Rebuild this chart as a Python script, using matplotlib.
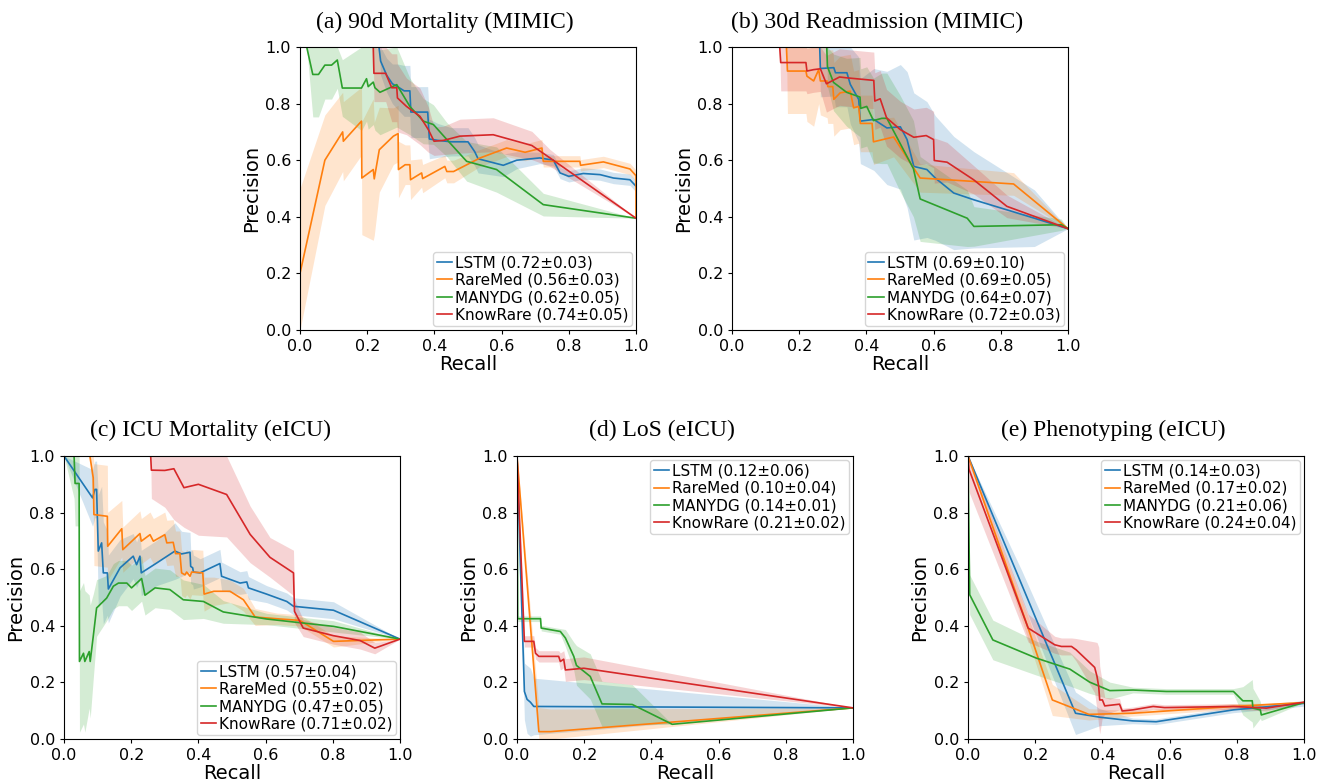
import numpy as np
import matplotlib
matplotlib.use("Agg")
import matplotlib.pyplot as plt

# model names and AUPRC scores shown in the legends
models = ["LSTM", "RareMed", "MANYDG", "KnowRare"]
colors = ["#1f77b4", "#ff7f0e", "#2ca02c", "#d62728"]

titles = ["(a) 90d Mortality (MIMIC)", "(b) 30d Readmission (MIMIC)",
          "(c) ICU Mortality (eICU)", "(d) LoS (eICU)", "(e) Phenotyping (eICU)"]

scores_a = ["0.72±0.03", "0.56±0.03", "0.62±0.05", "0.74±0.05"]
scores_b = ["0.69±0.10", "0.69±0.05", "0.64±0.07", "0.72±0.03"]
scores_c = ["0.57±0.04", "0.55±0.02", "0.47±0.05", "0.71±0.02"]
scores_d = ["0.12±0.06", "0.10±0.04", "0.14±0.01", "0.21±0.02"]
scores_e = ["0.14±0.03", "0.17±0.02", "0.21±0.06", "0.24±0.04"]

# ---- (a) 90d Mortality (MIMIC): recall, mean precision, std ----
a_lstm_r = [0, 0.235, 0.24, 0.258, 0.275, 0.29, 0.31, 0.327, 0.33, 0.38, 0.385, 0.41, 0.45, 0.50, 0.52, 0.53,
            0.605, 0.645, 0.714, 0.754, 0.774, 0.80, 0.843, 0.893, 0.933, 0.982, 1.0]
a_lstm_p = [1.0, 1.0, 0.95, 0.90, 0.87, 0.86, 0.845, 0.845, 0.77, 0.77, 0.675, 0.67, 0.665, 0.665, 0.63, 0.605,
            0.582, 0.60, 0.608, 0.60, 0.555, 0.543, 0.553, 0.549, 0.537, 0.531, 0.508]
a_lstm_sd = [0, 0, 0.05, 0.06, 0.07, 0.08, 0.09, 0.09, 0.09, 0.09, 0.07, 0.06, 0.05, 0.05, 0.05, 0.05,
             0.04, 0.03, 0.02, 0.02, 0.02, 0.02, 0.02, 0.02, 0.02, 0.02, 0.02]

a_rare_r = [0, 0, 0.074, 0.127, 0.129, 0.183, 0.184, 0.218, 0.221, 0.236, 0.278, 0.292, 0.293, 0.313, 0.327,
            0.329, 0.362, 0.365, 0.431, 0.437, 0.457, 0.536, 0.615, 0.67, 0.72, 0.724, 0.833, 0.835, 0.903,
            0.982, 1.0, 1.0]
a_rare_p = [1.0, 0.2, 0.60, 0.70, 0.667, 0.738, 0.537, 0.567, 0.534, 0.637, 0.685, 0.694, 0.567, 0.584, 0.584,
            0.531, 0.555, 0.535, 0.578, 0.56, 0.56, 0.608, 0.643, 0.628, 0.643, 0.596, 0.596, 0.582, 0.594,
            0.569, 0.545, 0.395]
a_rare_sd = [0.3, 0.3, 0.16, 0.14, 0.14, 0.12, 0.2, 0.25, 0.2, 0.15, 0.1, 0.1, 0.1, 0.07, 0.07,
             0.07, 0.05, 0.05, 0.04, 0.04, 0.04, 0.03, 0.03, 0.03, 0.03, 0.02, 0.02, 0.02, 0.02,
             0.02, 0.02, 0.0]

a_many_r = [0, 0.02, 0.038, 0.055, 0.074, 0.094, 0.111, 0.126, 0.183, 0.198, 0.203, 0.218, 0.223, 0.238,
            0.288, 0.327, 0.367, 0.397, 0.437, 0.496, 0.585, 0.724, 1.0]
a_many_p = [1.0, 1.0, 0.903, 0.903, 0.936, 0.936, 0.954, 0.855, 0.855, 0.888, 0.86, 0.876, 0.856, 0.84,
            0.867, 0.79, 0.738, 0.726, 0.673, 0.596, 0.567, 0.443, 0.395]
a_many_sd = [0, 0, 0.15, 0.15, 0.12, 0.12, 0.1, 0.1, 0.15, 0.15, 0.15, 0.15, 0.15, 0.15,
             0.15, 0.1, 0.08, 0.07, 0.06, 0.07, 0.08, 0.04, 0.0]

a_know_r = [0, 0.218, 0.22, 0.255, 0.273, 0.288, 0.29, 0.317, 0.357, 0.382, 0.399, 0.427, 0.476, 0.575,
            0.69, 0.744, 1.0]
a_know_p = [1.0, 1.0, 0.907, 0.907, 0.856, 0.856, 0.82, 0.79, 0.755, 0.708, 0.667, 0.67, 0.685, 0.69,
            0.652, 0.608, 0.395]
a_know_sd = [0, 0, 0.1, 0.1, 0.12, 0.12, 0.12, 0.1, 0.1, 0.08, 0.05, 0.05, 0.06, 0.06,
             0.05, 0.03, 0.0]

# ---- (b) 30d Readmission (MIMIC) ----
b_lstm_r = [0, 0.261, 0.263, 0.303, 0.308, 0.342, 0.352, 0.377, 0.382, 0.422, 0.461, 0.501, 0.521, 0.541,
            0.58, 0.605, 0.66, 0.72, 0.9, 1.0]
b_lstm_p = [1.0, 1.0, 0.924, 0.927, 0.909, 0.909, 0.868, 0.815, 0.738, 0.744, 0.714, 0.718, 0.673, 0.578,
            0.567, 0.537, 0.484, 0.46, 0.395, 0.358]
b_lstm_sd = [0, 0, 0.1, 0.1, 0.12, 0.12, 0.14, 0.15, 0.15, 0.18, 0.2, 0.22, 0.24, 0.26,
             0.24, 0.22, 0.2, 0.17, 0.1, 0.0]

b_rare_r = [0, 0.162, 0.165, 0.22, 0.223, 0.243, 0.258, 0.263, 0.283, 0.285, 0.30, 0.303, 0.322, 0.352,
            0.362, 0.377, 0.382, 0.417, 0.421, 0.481, 0.56, 0.838, 1.0]
b_rare_p = [1.0, 1.0, 0.915, 0.915, 0.897, 0.88, 0.92, 0.88, 0.88, 0.86, 0.86, 0.815, 0.838, 0.844,
            0.785, 0.79, 0.73, 0.73, 0.665, 0.682, 0.537, 0.516, 0.358]
b_rare_sd = [0, 0, 0.15, 0.15, 0.16, 0.16, 0.12, 0.12, 0.13, 0.13, 0.13, 0.13, 0.13, 0.13,
             0.13, 0.13, 0.1, 0.1, 0.08, 0.07, 0.05, 0.04, 0.0]

b_many_r = [0, 0.282, 0.284, 0.302, 0.341, 0.381, 0.383, 0.401, 0.421, 0.446, 0.461, 0.50, 0.54, 0.56,
            0.70, 0.72, 0.98, 1.0]
b_many_p = [1.0, 1.0, 0.931, 0.875, 0.84, 0.823, 0.783, 0.79, 0.74, 0.748, 0.748, 0.66, 0.57, 0.463,
            0.395, 0.366, 0.372, 0.358]
b_many_sd = [0, 0, 0.07, 0.1, 0.12, 0.14, 0.14, 0.14, 0.15, 0.16, 0.16, 0.17, 0.17, 0.15,
             0.1, 0.07, 0.02, 0.0]

b_know_r = [0, 0.142, 0.145, 0.22, 0.223, 0.243, 0.263, 0.281, 0.32, 0.342, 0.422, 0.425, 0.441, 0.46,
            0.501, 0.541, 0.578, 0.60, 0.602, 0.64, 0.719, 0.818, 1.0]
b_know_p = [1.0, 1.0, 0.945, 0.945, 0.915, 0.92, 0.923, 0.87, 0.894, 0.891, 0.882, 0.809, 0.817, 0.75,
            0.708, 0.681, 0.687, 0.673, 0.599, 0.593, 0.531, 0.437, 0.358]
b_know_sd = [0, 0, 0.1, 0.1, 0.08, 0.08, 0.08, 0.1, 0.1, 0.1, 0.1, 0.1, 0.1, 0.1,
             0.1, 0.1, 0.1, 0.1, 0.08, 0.07, 0.05, 0.04, 0.0]

# ---- (c) ICU Mortality (eICU) ----
c_lstm_r = [0, 0.085, 0.092, 0.097, 0.102, 0.112, 0.117, 0.129, 0.132, 0.167, 0.206, 0.216, 0.226, 0.23,
            0.276, 0.33, 0.35, 0.375, 0.377, 0.383, 0.385, 0.405, 0.464, 0.469, 0.524, 0.544, 0.549, 0.603,
            0.663, 0.683, 0.802, 1.0]
c_lstm_p = [1.0, 0.852, 0.882, 0.882, 0.664, 0.693, 0.587, 0.587, 0.53, 0.605, 0.646, 0.616, 0.646, 0.587,
            0.622, 0.664, 0.654, 0.66, 0.61, 0.605, 0.59, 0.587, 0.62, 0.575, 0.551, 0.555, 0.534, 0.512,
            0.486, 0.469, 0.455, 0.353]
c_lstm_sd = [0, 0.1, 0.1, 0.1, 0.2, 0.2, 0.18, 0.15, 0.12, 0.1, 0.08, 0.08, 0.08, 0.08,
             0.08, 0.1, 0.08, 0.07, 0.06, 0.06, 0.06, 0.05, 0.05, 0.05, 0.04, 0.04, 0.04, 0.03,
             0.03, 0.03, 0.03, 0.0]

c_rare_r = [0, 0.077, 0.087, 0.089, 0.129, 0.13, 0.172, 0.175, 0.226, 0.23, 0.256, 0.266, 0.30, 0.306,
            0.325, 0.332, 0.345, 0.35, 0.36, 0.365, 0.375, 0.38, 0.413, 0.417, 0.446, 0.494, 0.534, 0.569,
            0.633, 0.702, 0.802, 1.0]
c_rare_p = [1.0, 1.0, 0.923, 0.793, 0.787, 0.681, 0.743, 0.669, 0.726, 0.699, 0.722, 0.699, 0.722, 0.693,
            0.695, 0.655, 0.655, 0.587, 0.58, 0.59, 0.575, 0.59, 0.587, 0.512, 0.522, 0.522, 0.492, 0.431,
            0.425, 0.419, 0.345, 0.353]
c_rare_sd = [0, 0, 0.1, 0.18, 0.18, 0.12, 0.1, 0.08, 0.08, 0.08, 0.08, 0.08, 0.08, 0.08,
             0.08, 0.08, 0.08, 0.08, 0.08, 0.08, 0.08, 0.08, 0.08, 0.06, 0.05, 0.04, 0.04, 0.03,
             0.02, 0.02, 0.02, 0.0]

c_many_r = [0, 0.03, 0.033, 0.045, 0.046, 0.058, 0.062, 0.075, 0.078, 0.087, 0.097, 0.127, 0.147, 0.162,
            0.187, 0.201, 0.231, 0.241, 0.271, 0.315, 0.355, 0.415, 0.474, 0.603, 0.802, 1.0]
c_many_p = [1.0, 1.0, 0.903, 0.903, 0.274, 0.303, 0.274, 0.309, 0.274, 0.362, 0.463, 0.498, 0.54, 0.551,
            0.551, 0.534, 0.567, 0.508, 0.534, 0.528, 0.492, 0.486, 0.449, 0.424, 0.398, 0.353]
c_many_sd = [0, 0.15, 0.15, 0.15, 0.25, 0.25, 0.25, 0.2, 0.2, 0.15, 0.1, 0.08, 0.08, 0.08,
             0.08, 0.08, 0.08, 0.07, 0.07, 0.07, 0.07, 0.06, 0.04, 0.02, 0.02, 0.0]

c_know_r = [0, 0.258, 0.26, 0.30, 0.327, 0.357, 0.40, 0.484, 0.554, 0.613, 0.683, 0.686, 0.712, 0.802,
            0.881, 0.925, 1.0]
c_know_p = [1.0, 1.0, 0.95, 0.949, 0.955, 0.888, 0.90, 0.864, 0.723, 0.642, 0.587, 0.451, 0.392, 0.365,
            0.348, 0.321, 0.353]
c_know_sd = [0, 0, 0.1, 0.13, 0.18, 0.14, 0.18, 0.15, 0.1, 0.07, 0.08, 0.04, 0.03, 0.03,
             0.03, 0.02, 0.0]

# ---- (d) LoS (eICU) ----
d_lstm_r = [0, 0.022, 0.03, 0.04, 0.05, 1.0]
d_lstm_p = [1.0, 0.168, 0.14, 0.13, 0.115, 0.11]
d_lstm_sd = [0, 0.1, 0.12, 0.12, 0.1, 0.0]

d_rare_r = [0, 0.065, 0.10, 1.0]
d_rare_p = [1.0, 0.026, 0.026, 0.11]
d_rare_sd = [0, 0.085, 0.08, 0.0]

d_many_r = [0, 0.002, 0.07, 0.072, 0.10, 0.129, 0.144, 0.169, 0.177, 0.218, 0.253, 0.343, 0.462, 1.0]
d_many_p = [1.0, 0.425, 0.425, 0.392, 0.386, 0.38, 0.357, 0.292, 0.26, 0.221, 0.124, 0.122, 0.052, 0.11]
d_many_sd = [0, 0.01, 0.01, 0.01, 0.01, 0.01, 0.03, 0.05, 0.07, 0.08, 0.08, 0.07, 0.0, 0.0]

d_know_r = [0, 0.022, 0.05, 0.055, 0.065, 0.124, 0.129, 0.139, 0.144, 0.199, 1.0]
d_know_p = [1.0, 0.345, 0.345, 0.303, 0.292, 0.292, 0.274, 0.282, 0.244, 0.25, 0.11]
d_know_sd = [0, 0.02, 0.02, 0.02, 0.02, 0.02, 0.03, 0.03, 0.04, 0.04, 0.0]

# ---- (e) Phenotyping (eICU) ----
e_lstm_r = [0, 0.16, 0.32, 0.392, 0.49, 0.56, 0.79, 1.0]
e_lstm_p = [1.0, 0.545, 0.091, 0.077, 0.064, 0.061, 0.103, 0.126]
e_lstm_sd = [0, 0.05, 0.075, 0.03, 0.01, 0.01, 0.01, 0.01]

e_rare_r = [0, 0.179, 0.251, 0.36, 0.49, 0.79, 1.0]
e_rare_p = [1.0, 0.392, 0.138, 0.087, 0.091, 0.115, 0.129]
e_rare_sd = [0, 0.04, 0.055, 0.02, 0.01, 0.01, 0.0]

e_many_r = [0, 0.005, 0.074, 0.203, 0.303, 0.362, 0.422, 0.491, 0.59, 0.79, 0.818, 0.846, 0.848, 0.87,
            0.873, 1.0]
e_many_p = [1.0, 0.51, 0.35, 0.286, 0.247, 0.201, 0.171, 0.173, 0.168, 0.168, 0.135, 0.135, 0.109, 0.103,
            0.085, 0.129]
e_many_sd = [0, 0.07, 0.07, 0.06, 0.06, 0.04, 0.03, 0.01, 0.01, 0.01, 0.05, 0.075, 0.07, 0.03,
             0.02, 0.0]

e_know_r = [0, 0.003, 0.179, 0.258, 0.278, 0.308, 0.322, 0.377, 0.384, 0.389, 0.392, 0.40, 0.407, 0.451,
            0.459, 0.491, 0.551, 0.585, 0.79, 0.888, 1.0]
e_know_p = [1.0, 0.953, 0.392, 0.333, 0.327, 0.327, 0.315, 0.253, 0.221, 0.185, 0.138, 0.138, 0.117, 0.123,
            0.099, 0.103, 0.115, 0.111, 0.115, 0.109, 0.13]
e_know_sd = [0, 0.08, 0.05, 0.03, 0.03, 0.03, 0.04, 0.09, 0.12, 0.14, 0.12, 0.06, 0.03, 0.02,
             0.01, 0.01, 0.01, 0.01, 0.01, 0.01, 0.0]

panels = [
    ([(a_lstm_r, a_lstm_p, a_lstm_sd), (a_rare_r, a_rare_p, a_rare_sd),
      (a_many_r, a_many_p, a_many_sd), (a_know_r, a_know_p, a_know_sd)], scores_a, "lower right"),
    ([(b_lstm_r, b_lstm_p, b_lstm_sd), (b_rare_r, b_rare_p, b_rare_sd),
      (b_many_r, b_many_p, b_many_sd), (b_know_r, b_know_p, b_know_sd)], scores_b, "lower right"),
    ([(c_lstm_r, c_lstm_p, c_lstm_sd), (c_rare_r, c_rare_p, c_rare_sd),
      (c_many_r, c_many_p, c_many_sd), (c_know_r, c_know_p, c_know_sd)], scores_c, "lower right"),
    ([(d_lstm_r, d_lstm_p, d_lstm_sd), (d_rare_r, d_rare_p, d_rare_sd),
      (d_many_r, d_many_p, d_many_sd), (d_know_r, d_know_p, d_know_sd)], scores_d, "upper right"),
    ([(e_lstm_r, e_lstm_p, e_lstm_sd), (e_rare_r, e_rare_p, e_rare_sd),
      (e_many_r, e_many_p, e_many_sd), (e_know_r, e_know_p, e_know_sd)], scores_e, "upper right"),
]

W, H = 1328, 784
# axes boxes in pixels: left, top, width, height
boxes = [(300, 47, 336, 283), (732, 47, 336, 283),
         (64, 456, 336, 283), (517, 456, 336, 283), (968, 456, 336, 283)]
title_pos = [(445, 22), (877, 22), (210, 430), (662, 430), (1113, 430)]

fig = plt.figure(figsize=(W / 100, H / 100), dpi=100)

for (series, scores, loc), (l, t, w, h), title, (tx, ty) in zip(panels, boxes, titles, title_pos):
    ax = fig.add_axes([l / W, 1 - (t + h) / H, w / W, h / H])
    for (r, p, sd), name, score, col in zip(series, models, scores, colors):
        r = np.array(r)
        p = np.array(p)
        sd = np.array(sd)
        ax.fill_between(r, np.clip(p - sd, 0, 1), np.clip(p + sd, 0, 1),
                        color=col, alpha=0.2, linewidth=0)
        ax.plot(r, p, color=col, lw=1.2, label=f"{name} ({score})")
    ax.set_xlim(0, 1)
    ax.set_ylim(0, 1)
    ax.set_xticks(np.arange(0, 1.01, 0.2))
    ax.set_yticks(np.arange(0, 1.01, 0.2))
    ax.tick_params(labelsize=11.5, length=3)
    ax.set_xlabel("Recall", fontsize=14, labelpad=1)
    ax.set_ylabel("Precision", fontsize=14, labelpad=3)
    ax.legend(loc=loc, fontsize=11, handlelength=1.0, handletextpad=0.2,
              labelspacing=0.15, borderpad=0.25, borderaxespad=0.25)
    fig.text(tx / W, 1 - ty / H, title, ha="center", va="center",
             family="Liberation Serif", fontsize=17)

fig.savefig("out.png", dpi=100)
